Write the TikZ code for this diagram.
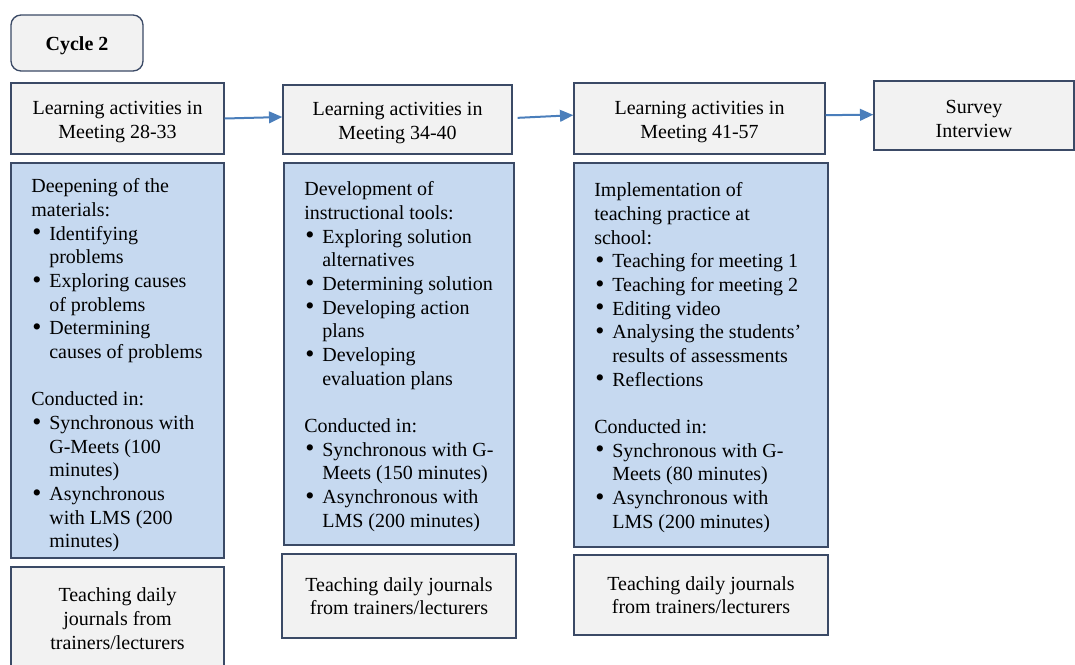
\documentclass[tikz,border=0pt]{standalone}
\usepackage{fontspec}
\setmainfont{Liberation Serif}
\usetikzlibrary{arrows.meta}
\definecolor{boxline}{HTML}{3B4A66}
\definecolor{boxgray}{HTML}{F2F2F2}
\definecolor{boxblue}{HTML}{C6D9F0}
\definecolor{arrowblue}{HTML}{4A7EBB}
\newcommand{\bl}{\makebox[10.8pt][l]{\hspace{0.6pt}\raisebox{-0.3pt}{\scalebox{1.3}{\textbullet}}}}
\newcommand{\cl}{\hspace{10.8pt}}
\newcommand{\hstrut}{\rule{0pt}{11.8pt}}

\begin{document}
\begin{tikzpicture}[x=0.6pt, y=-0.6pt,
  every node/.style={font=\fontsize{12}{14.2}\selectfont, inner sep=0pt},
  head/.style={draw=boxline, line width=0.8pt, fill=boxgray, align=center},
  detail/.style={draw=boxline, line width=0.8pt, fill=boxblue},
  listtext/.style={anchor=north west, align=left},
  flow/.style={-{Triangle[length=8pt,width=7pt]}, arrowblue, line width=1.2pt}]
\useasboundingbox (0,0) rectangle (1075,664);

\node[head, rounded corners=6pt, minimum width=79.2pt, minimum height=33.6pt] at (77,43) (cyc) {\hstrut\bfseries Cycle 2};

\node[head, minimum width=127.8pt, minimum height=42.6pt] at (117.5,118.5) (h1) {\hstrut Learning activities in\\Meeting 28-33};
\node[head, minimum width=137.4pt, minimum height=41.4pt] at (397.5,119.5) (h2) {\hstrut Learning activities in\\Meeting 34-40};
\node[head, minimum width=150.6pt, minimum height=42.6pt] at (699.5,118.5) (h3) {\hstrut Learning activities in\\Meeting 41-57};
\node[head, minimum width=120pt, minimum height=41.4pt] at (974,115.5) (h4) {\hstrut Survey\\Interview};

\draw[flow] (h1.east) -- ([yshift=1.5pt]h2.west);
\draw[flow] ([xshift=3pt,yshift=1pt]h2.east) -- ([yshift=2pt]h3.west);
\draw[flow] ([yshift=2pt]h3.east) -- ([yshift=0.5pt]h4.west);

\node[detail, minimum width=127.8pt, minimum height=237pt] at (117.5,360.5) (d1) {};
\node[detail, minimum width=138pt, minimum height=229.2pt] at (399,354) (d2) {};
\node[detail, minimum width=152.4pt, minimum height=230.4pt] at (701,355) (d3) {};

\node[listtext] at (31,178.5) (t1) {Deepening of the\\
materials:\\
\bl Identifying\\ \cl problems\\
\bl Exploring causes\\ \cl of problems\\
\bl Determining\\ \cl causes of problems\\[14.2pt]
Conducted in:\\
\bl Synchronous with\\ \cl G-Meets (100\\ \cl minutes)\\
\bl Asynchronous\\ \cl with LMS (200\\ \cl minutes)};

\node[listtext] at (304,181.5) (t2) {Development of\\
instructional tools:\\
\bl Exploring solution\\ \cl alternatives\\
\bl Determining solution\\
\bl Developing action\\ \cl plans\\
\bl Developing\\ \cl evaluation plans\\[14.2pt]
Conducted in:\\
\bl Synchronous with G-\\ \cl Meets (150 minutes)\\
\bl Asynchronous with\\ \cl LMS (200 minutes)};

\node[listtext] at (594,182.5) (t3) {Implementation of\\
teaching practice at\\
school:\\
\bl Teaching for meeting 1\\
\bl Teaching for meeting 2\\
\bl Editing video\\
\bl Analysing the students'\\ \cl results of assessments\\
\bl Reflections\\[14.2pt]
Conducted in:\\
\bl Synchronous with G-\\ \cl Meets (80 minutes)\\
\bl Asynchronous with\\ \cl LMS (200 minutes)};

\node[head, minimum width=127.8pt, minimum height=61.8pt] at (117.5,618.5) (j1) {Teaching daily\\journals from\\trainers/lecturers};
\node[head, minimum width=140.4pt, minimum height=50.4pt] at (399,596) (j2) {Teaching daily journals\\from trainers/lecturers};
\node[head, minimum width=152.4pt, minimum height=48pt] at (701,595) (j3) {Teaching daily journals\\from trainers/lecturers};
\end{tikzpicture}
\end{document}
